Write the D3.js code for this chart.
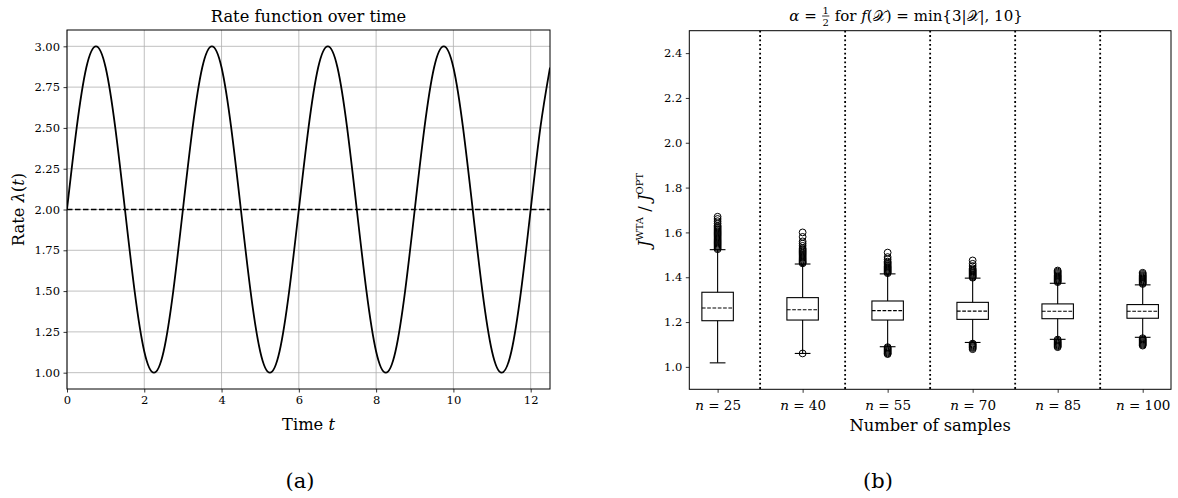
<!DOCTYPE html>
<html>
<head>
<meta charset="utf-8">
<script src="https://cdn.jsdelivr.net/npm/d3@7"></script>
<style>
  html, body { margin: 0; padding: 0; background: #fff; }
  svg { display: block; }
  text { font-family: "DejaVu Serif", serif; fill: #000; white-space: pre; }
</style>
</head>
<body>
<svg id="chart" width="1178" height="498"></svg>
<script>
// ---------- Data: panel (a) ----------
const timeValues = [
  0.00, 0.25, 0.50, 0.75, 1.00, 1.25, 1.50, 1.75, 2.00, 2.25, 2.50, 2.75,
  3.00, 3.25, 3.50, 3.75, 4.00, 4.25, 4.50, 4.75, 5.00, 5.25, 5.50, 5.75,
  6.00, 6.25, 6.50, 6.75, 7.00, 7.25, 7.50, 7.75, 8.00, 8.25, 8.50, 8.75,
  9.00, 9.25, 9.50, 9.75, 10.00, 10.25, 10.50, 10.75, 11.00, 11.25, 11.50, 11.75,
  12.00, 12.25, 12.50
];
const rateValues = [
  2.00, 2.50, 2.87, 3.00, 2.87, 2.50, 2.00, 1.50, 1.13, 1.00, 1.13, 1.50,
  2.00, 2.50, 2.87, 3.00, 2.87, 2.50, 2.00, 1.50, 1.13, 1.00, 1.13, 1.50,
  2.00, 2.50, 2.87, 3.00, 2.87, 2.50, 2.00, 1.50, 1.13, 1.00, 1.13, 1.50,
  2.00, 2.50, 2.87, 3.00, 2.87, 2.50, 2.00, 1.50, 1.13, 1.00, 1.13, 1.50,
  2.00, 2.50, 2.87
];
const meanRate = 2.0;
const timeTicks = [0, 2, 4, 6, 8, 10, 12];
const rateTicks = [1.00, 1.25, 1.50, 1.75, 2.00, 2.25, 2.50, 2.75, 3.00];

// ---------- Data: panel (b) ----------
const sampleSizes = [25, 40, 55, 70, 85, 100];
const boxQ1 =      [1.206, 1.209, 1.209, 1.212, 1.215, 1.217];
const boxQ3 =      [1.333, 1.309, 1.294, 1.288, 1.281, 1.278];
const boxMean =    [1.263, 1.255, 1.251, 1.249, 1.248, 1.248];
const whiskerLow = [1.018, 1.060, 1.090, 1.109, 1.123, 1.132];
const whiskerHigh= [1.523, 1.459, 1.415, 1.396, 1.373, 1.366];
const outliers = [
  [1.525,1.53,1.535,1.54,1.545,1.55,1.555,1.56,1.565,1.57,1.575,1.58,1.585,1.59,1.595,1.60,1.605,1.61,1.615,1.62,1.625,1.63,1.64,1.65,1.66,1.67],
  [1.06,1.462,1.466,1.47,1.475,1.48,1.485,1.49,1.495,1.50,1.505,1.51,1.515,1.52,1.525,1.53,1.54,1.55,1.56,1.58,1.60],
  [1.057,1.06,1.064,1.068,1.072,1.076,1.08,1.084,1.088,1.418,1.422,1.426,1.43,1.434,1.438,1.442,1.446,1.45,1.455,1.46,1.465,1.47,1.48,1.49,1.51],
  [1.079,1.084,1.088,1.092,1.096,1.10,1.104,1.398,1.402,1.406,1.41,1.414,1.418,1.422,1.426,1.43,1.434,1.44,1.45,1.46,1.475],
  [1.088,1.092,1.096,1.10,1.104,1.108,1.112,1.117,1.122,1.378,1.382,1.386,1.39,1.394,1.398,1.402,1.406,1.41,1.415,1.42,1.425,1.43],
  [1.095,1.099,1.103,1.107,1.111,1.115,1.119,1.123,1.128,1.37,1.374,1.378,1.382,1.386,1.39,1.394,1.398,1.402,1.406,1.41,1.415,1.42]
];
const ratioTicks = [1.0, 1.2, 1.4, 1.6, 1.8, 2.0, 2.2, 2.4];

// ---------- Setup ----------
const svg = d3.select("#chart");
const FONT = '"DejaVu Serif", serif';
const TICK_FS = 11.5, LABEL_FS = 16.3;

function styleAxis(g) {
  g.select(".domain").remove();
  g.selectAll(".tick line").attr("stroke", "#000").attr("stroke-width", 0.8);
  g.selectAll(".tick text").style("font-size", TICK_FS + "px")
    .style("font-family", FONT).attr("fill", "#000");
}

// ================= Panel (a) =================
const A = {left: 67, right: 550, top: 30, bottom: 389};
const xA = d3.scaleLinear().domain([0, 12.5]).range([A.left, A.right]);
const yA = d3.scaleLinear().domain([0.9, 3.1]).range([A.bottom, A.top]);

const gA = svg.append("g");
// grid
gA.append("g").selectAll("line").data(timeTicks).join("line")
  .attr("x1", d => xA(d)).attr("x2", d => xA(d))
  .attr("y1", A.top).attr("y2", A.bottom)
  .attr("stroke", "#b0b0b0").attr("stroke-width", 0.8);
gA.append("g").selectAll("line").data(rateTicks).join("line")
  .attr("x1", A.left).attr("x2", A.right)
  .attr("y1", d => yA(d)).attr("y2", d => yA(d))
  .attr("stroke", "#b0b0b0").attr("stroke-width", 0.8);

// axes
gA.append("g").attr("transform", `translate(0,${A.bottom})`)
  .call(d3.axisBottom(xA).tickValues(timeTicks).tickFormat(d3.format("d")).tickSize(3.5).tickPadding(3.5))
  .call(styleAxis);
gA.append("g").attr("transform", `translate(${A.left},0)`)
  .call(d3.axisLeft(yA).tickValues(rateTicks).tickFormat(d3.format(".2f")).tickSize(3.5).tickPadding(3.5))
  .call(styleAxis);

// clip
svg.append("clipPath").attr("id", "clipA").append("rect")
  .attr("x", A.left).attr("y", A.top).attr("width", A.right - A.left).attr("height", A.bottom - A.top);

const rateData = timeValues.map((t, i) => ({t, v: rateValues[i]}));
gA.append("path").datum(rateData)
  .attr("clip-path", "url(#clipA)")
  .attr("fill", "none").attr("stroke", "#000").attr("stroke-width", 1.8)
  .attr("d", d3.line().x(d => xA(d.t)).y(d => yA(d.v)).curve(d3.curveNatural));

gA.append("line")
  .attr("x1", A.left).attr("x2", A.right)
  .attr("y1", yA(meanRate)).attr("y2", yA(meanRate))
  .attr("stroke", "#000").attr("stroke-width", 1.6).attr("stroke-dasharray", "5.5,2.5");

// frame
gA.append("rect").attr("x", A.left).attr("y", A.top)
  .attr("width", A.right - A.left).attr("height", A.bottom - A.top)
  .attr("fill", "none").attr("stroke", "#000").attr("stroke-width", 1);

// texts
gA.append("text").attr("x", (A.left + A.right) / 2).attr("y", 22)
  .attr("text-anchor", "middle").style("font-size", LABEL_FS + "px").text("Rate function over time");
const xlabA = gA.append("text").attr("x", (A.left + A.right) / 2).attr("y", 430)
  .attr("text-anchor", "middle").style("font-size", LABEL_FS + "px");
xlabA.append("tspan").text("Time\u00A0");
xlabA.append("tspan").attr("font-style", "italic").text("t");
const ylabA = gA.append("text")
  .attr("transform", `translate(24,${(A.top + A.bottom) / 2}) rotate(-90)`)
  .attr("text-anchor", "middle").style("font-size", LABEL_FS + "px");
ylabA.append("tspan").text("Rate\u00A0");
ylabA.append("tspan").attr("font-style", "italic").text("λ");
ylabA.append("tspan").text("(");
ylabA.append("tspan").attr("font-style", "italic").text("t");
ylabA.append("tspan").text(")");
gA.append("text").attr("x", 300).attr("y", 488).attr("text-anchor", "middle")
  .style("font-size", "21px").text("(a)");

// ================= Panel (b) =================
const B = {left: 689.3, right: 1171, top: 30.7, bottom: 389.3};
const xB = d3.scaleLinear().domain([0.667, 6.333]).range([B.left, B.right]);
const yB = d3.scaleLinear().domain([0.9, 2.5]).range([B.bottom, B.top]);
const positions = sampleSizes.map((d, i) => i + 1);

const gB = svg.append("g");

// separators
gB.append("g").selectAll("line").data(positions.slice(0, -1)).join("line")
  .attr("x1", d => xB(d + 0.5)).attr("x2", d => xB(d + 0.5))
  .attr("y1", B.top).attr("y2", B.bottom)
  .attr("stroke", "#000").attr("stroke-width", 1.8).attr("stroke-dasharray", "1.8,2.6");

// x axis
const xAxisB = gB.append("g").attr("transform", `translate(0,${B.bottom})`)
  .call(d3.axisBottom(xB).tickValues(positions).tickFormat(() => "").tickSize(3.5).tickPadding(3.5))
  .call(styleAxis);
xAxisB.selectAll(".tick text").each(function(d, i) {
  const t = d3.select(this);
  t.text(null).attr("dy", null).attr("y", 21).style("font-size", "13.5px");
  t.append("tspan").attr("font-style", "italic").text("n");
  t.append("tspan").text("\u00A0=\u00A0" + sampleSizes[i]);
});
gB.append("g").attr("transform", `translate(${B.left},0)`)
  .call(d3.axisLeft(yB).tickValues(ratioTicks).tickFormat(d3.format(".1f")).tickSize(3.5).tickPadding(3.5))
  .call(styleAxis);

// boxes
const boxW = 0.37;
const boxes = gB.append("g").selectAll("g").data(positions).join("g");
boxes.each(function(p, i) {
  const g = d3.select(this);
  const cx = xB(p), hw = (xB(p + boxW / 2) - xB(p - boxW / 2)) / 2, cw = hw / 2;
  const ln = (x1, y1, x2, y2) => g.append("line").attr("x1", x1).attr("y1", y1).attr("x2", x2).attr("y2", y2)
    .attr("stroke", "#000").attr("stroke-width", 1.1);
  ln(cx, yB(boxQ3[i]), cx, yB(whiskerHigh[i]));
  ln(cx, yB(boxQ1[i]), cx, yB(whiskerLow[i]));
  ln(cx - cw, yB(whiskerHigh[i]), cx + cw, yB(whiskerHigh[i]));
  ln(cx - cw, yB(whiskerLow[i]), cx + cw, yB(whiskerLow[i]));
  g.append("rect").attr("x", cx - hw).attr("y", yB(boxQ3[i]))
    .attr("width", 2 * hw).attr("height", yB(boxQ1[i]) - yB(boxQ3[i]))
    .attr("fill", "none").attr("stroke", "#000").attr("stroke-width", 1.1);
  ln(cx - hw, yB(boxMean[i]), cx + hw, yB(boxMean[i])).attr("stroke-dasharray", "3.7,1.6");
  g.selectAll("circle").data(outliers[i]).join("circle")
    .attr("cx", cx).attr("cy", d => yB(d)).attr("r", 3.4)
    .attr("fill", "none").attr("stroke", "#000").attr("stroke-width", 1);
});

// frame
gB.append("rect").attr("x", B.left).attr("y", B.top)
  .attr("width", B.right - B.left).attr("height", B.bottom - B.top)
  .attr("fill", "none").attr("stroke", "#000").attr("stroke-width", 1);

// title with fraction
const TITLE_FS = 15;
const titleG = gB.append("g");
const tt = titleG.append("text").attr("y", 21).style("font-size", TITLE_FS + "px");
tt.append("tspan").attr("font-style", "italic").text("α");
tt.append("tspan").text("\u00A0=\u00A0");
const t1w = tt.node().getComputedTextLength();
const fracW = 8.5;
const tt2 = titleG.append("text").attr("y", 21).style("font-size", TITLE_FS + "px");
tt2.append("tspan").text("\u00A0for\u00A0");
tt2.append("tspan").attr("font-style", "italic").text("f");
tt2.append("tspan").text("(");
tt2.append("tspan").text("𝒳");
tt2.append("tspan").text(")\u00A0=\u00A0min{3|");
tt2.append("tspan").text("𝒳");
tt2.append("tspan").text("|,\u00A010}");
const t2w = tt2.node().getComputedTextLength();
const totalW = t1w + fracW + t2w;
const titleCenter = 906;
const tx0 = titleCenter - totalW / 2;
tt.attr("x", tx0);
const fx = tx0 + t1w + fracW / 2;
titleG.append("text").attr("x", fx).attr("y", 14).attr("text-anchor", "middle").style("font-size", "10px").text("1");
titleG.append("line").attr("x1", fx - 3.6).attr("x2", fx + 3.6).attr("y1", 16).attr("y2", 16)
  .attr("stroke", "#000").attr("stroke-width", 0.8);
titleG.append("text").attr("x", fx).attr("y", 25.5).attr("text-anchor", "middle").style("font-size", "10px").text("2");
tt2.attr("x", tx0 + t1w + fracW);

// axis labels
gB.append("text").attr("x", (B.left + B.right) / 2).attr("y", 431)
  .attr("text-anchor", "middle").style("font-size", LABEL_FS + "px").text("Number of samples");
const ylabB = gB.append("text")
  .attr("transform", `translate(650,${(B.top + B.bottom) / 2}) rotate(-90)`)
  .attr("text-anchor", "middle").style("font-size", LABEL_FS + "px");
ylabB.append("tspan").attr("font-style", "italic").text("J");
ylabB.append("tspan").attr("dy", -7).style("font-size", "10px").text("WTA");
ylabB.append("tspan").attr("dy", 7).text("\u00A0/\u00A0");
ylabB.append("tspan").attr("font-style", "italic").text("J");
ylabB.append("tspan").attr("dy", -7).style("font-size", "10px").text("OPT");

gB.append("text").attr("x", 878).attr("y", 488).attr("text-anchor", "middle")
  .style("font-size", "21px").text("(b)");
</script>
</body>
</html>
